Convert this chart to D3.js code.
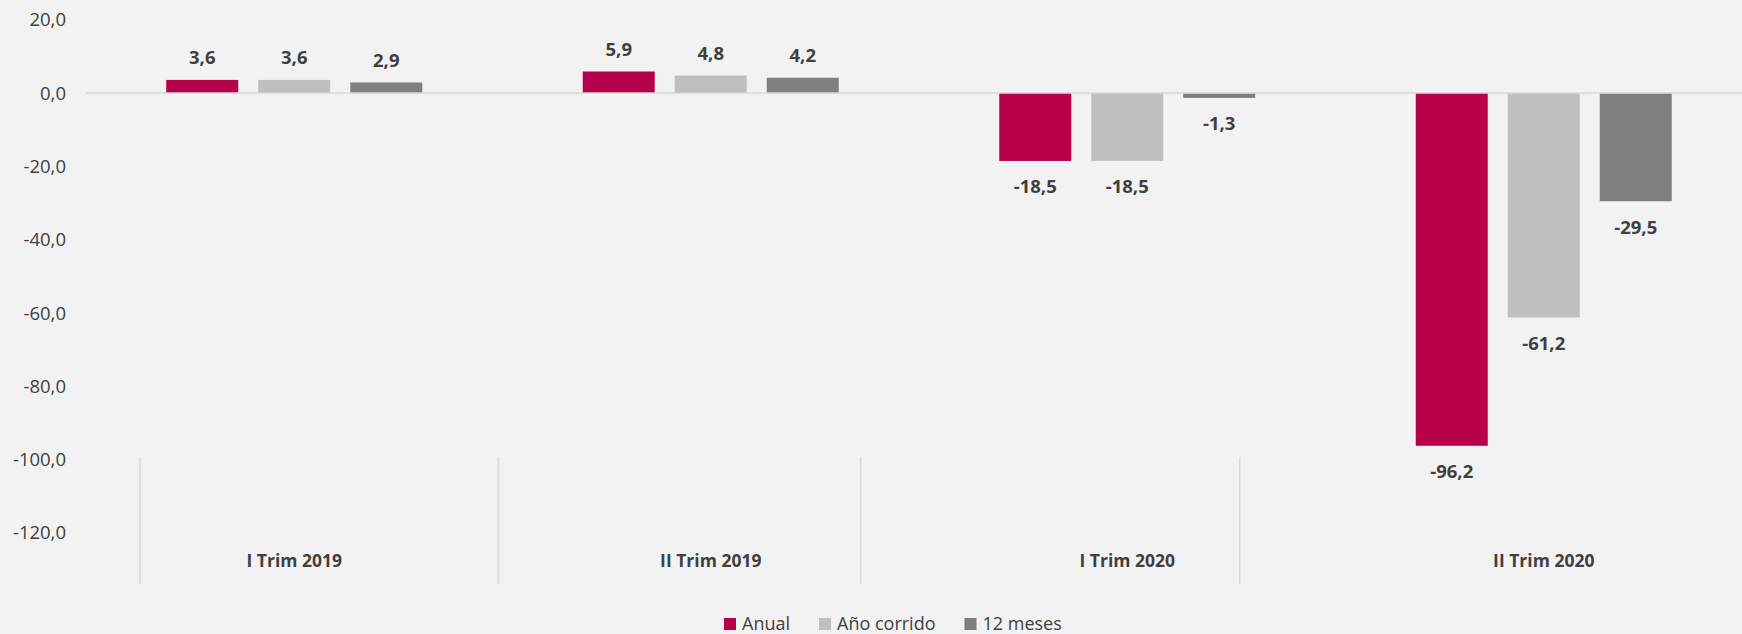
<!DOCTYPE html>
<html>
<head>
<meta charset="utf-8">
<script src="https://cdn.jsdelivr.net/npm/d3@7"></script>
<style>
    body { margin: 0; background: #F2F2F2; }
    svg { display: block; font-family: "Open Sans", sans-serif; }
</style>
</head>
<body>
<div id="chart"></div>
<script>
const categories = ['I Trim 2019', 'II Trim 2019', 'I Trim 2020', 'II Trim 2020'];
const seriesNames = ['Anual', 'Año corrido', '12 meses'];
const anual = [3.6, 5.9, -18.5, -96.2];
const anoCorrido = [3.6, 4.8, -18.5, -61.2];
const doceMeses = [2.9, 4.2, -1.3, -29.5];
const yTicks = [20, 0, -20, -40, -60, -80, -100, -120];
// separators drawn under the category labels, in band units
const separatorPos = [0.13, 0.99, 1.86, 2.77];

const colors = ['#B7004A', '#BFBFBF', '#7F7F7F'];
const textColor = '#404040';
const width = 1742, height = 634;

const series = [anual, anoCorrido, doceMeses];
const rows = [];
categories.forEach((c, i) => {
    series.forEach((s, j) => rows.push({ cat: c, name: seriesNames[j], value: s[i], k: j }));
});

const svg = d3.select('#chart').append('svg')
    .attr('width', width)
    .attr('height', height);

svg.append('rect').attr('width', width).attr('height', height).attr('fill', '#F2F2F2');

const x = d3.scaleBand().domain(categories).range([86, 1752]);
const y = d3.scaleLinear().domain([-120, 20]).range([533, 19.8]);
const barW = 72;
const barGap = 20;
const xInner = d3.scaleBand().domain(seriesNames)
    .range([0, 3 * barW + 2 * barGap])
    .paddingInner(barGap / (barW + barGap));
const groupOffset = (x.bandwidth() - (3 * barW + 2 * barGap)) / 2;

const fmt = v => d3.format('.1f')(v).replace('.', ',').replace('−', '-');

// y tick labels
svg.append('g')
    .selectAll('text')
    .data(yTicks)
    .join('text')
    .attr('x', 66)
    .attr('y', d => y(d))
    .attr('dy', '0.35em')
    .attr('text-anchor', 'end')
    .attr('fill', textColor)
    .style('font-size', '18.5px')
    .text(fmt);

// bars
svg.append('g')
    .selectAll('rect')
    .data(rows)
    .join('rect')
    .attr('x', d => x(d.cat) + groupOffset + xInner(d.name))
    .attr('width', xInner.bandwidth())
    .attr('y', d => Math.min(y(d.value), y(0)))
    .attr('height', d => Math.abs(y(d.value) - y(0)))
    .attr('fill', d => colors[d.k]);

// zero axis line
svg.append('line')
    .attr('x1', x.range()[0]).attr('x2', width)
    .attr('y1', y(0)).attr('y2', y(0))
    .attr('stroke', '#D9D9D9')
    .attr('stroke-width', 1.5);

// value labels
svg.append('g')
    .selectAll('text')
    .data(rows)
    .join('text')
    .attr('x', d => x(d.cat) + groupOffset + xInner(d.name) + xInner.bandwidth() / 2)
    .attr('y', d => d.value >= 0 ? y(d.value) - 22 : y(d.value) + 26)
    .attr('dy', '0.35em')
    .attr('text-anchor', 'middle')
    .attr('fill', textColor)
    .style('font-size', '18.5px')
    .style('font-weight', 'bold')
    .text(d => fmt(d.value));

// category separators and labels
svg.append('g')
    .selectAll('line')
    .data(separatorPos)
    .join('line')
    .attr('x1', d => x.range()[0] + d * x.step())
    .attr('x2', d => x.range()[0] + d * x.step())
    .attr('y1', 457).attr('y2', 584)
    .attr('stroke', '#D9D9D9')
    .attr('stroke-width', 1.5);

svg.append('g')
    .selectAll('text')
    .data(categories)
    .join('text')
    .attr('x', d => x(d) + x.bandwidth() / 2)
    .attr('y', 561)
    .attr('dy', '0.35em')
    .attr('text-anchor', 'middle')
    .attr('fill', textColor)
    .style('font-size', '17.5px')
    .style('font-weight', 'bold')
    .text(d => d);

// legend
const legend = svg.append('g').attr('transform', 'translate(724,624)');
let lx = 0;
seriesNames.forEach((name, i) => {
    const g = legend.append('g').attr('transform', `translate(${lx},0)`);
    g.append('rect')
        .attr('x', 0).attr('y', -6)
        .attr('width', 12).attr('height', 12)
        .attr('fill', colors[i]);
    const t = g.append('text')
        .attr('x', 18)
        .attr('dy', '0.35em')
        .attr('fill', textColor)
        .style('font-size', '18px')
        .text(name);
    lx += 18 + t.node().getComputedTextLength() + 29;
});
</script>
</body>
</html>
